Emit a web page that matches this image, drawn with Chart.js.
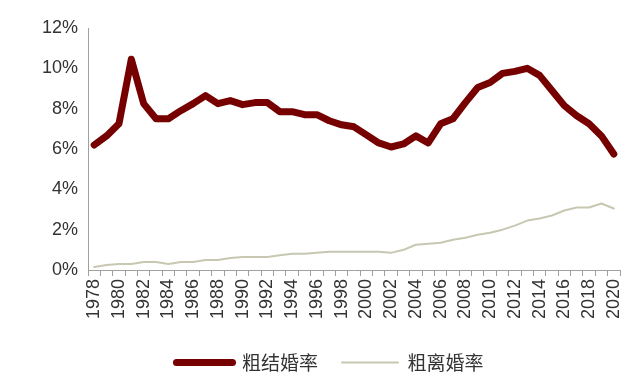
<!DOCTYPE html>
<html>
<head>
<meta charset="utf-8">
<script src="https://cdn.jsdelivr.net/npm/chart.js@4"></script>
<style>
  html, body { margin: 0; padding: 0; background: #fff; }
  #wrap { width: 640px; height: 378px; }
</style>
</head>
<body>
<div id="wrap"><canvas id="chart"></canvas></div>
<script>
const years = [];
for (let y = 1978; y <= 2020; y++) years.push(String(y));

const seriesNames = ["粗结婚率", "粗离婚率"];

const marriageRate = [
  6.2, 6.65, 7.25, 10.45, 8.25, 7.5, 7.5, 7.9, 8.25, 8.65,
  8.25, 8.4, 8.2, 8.3, 8.3, 7.85, 7.85, 7.7, 7.7, 7.4,
  7.2, 7.1, 6.7, 6.3, 6.1, 6.25, 6.65, 6.3, 7.25, 7.5,
  8.3, 9.05, 9.3, 9.75, 9.85, 10.0, 9.65, 8.9, 8.15, 7.65,
  7.25, 6.65, 5.75
];

const divorceRate = [
  0.15, 0.25, 0.3, 0.3, 0.4, 0.4, 0.3, 0.4, 0.4, 0.5,
  0.5, 0.6, 0.65, 0.65, 0.65, 0.73, 0.8, 0.8, 0.85, 0.9,
  0.9, 0.9, 0.9, 0.9, 0.85, 1.0, 1.25, 1.3, 1.35, 1.5,
  1.6, 1.75, 1.85, 2.0, 2.2, 2.45, 2.55, 2.7, 2.95, 3.1,
  3.1, 3.3, 3.05
];

const colors = ["#760000", "#c8c8b2"];
const widths = [7, 2];
const font = "'Liberation Sans', Arial, 'Noto Sans CJK SC', sans-serif";

const data = {
  labels: years,
  datasets: [
    {
      label: seriesNames[0],
      data: marriageRate,
      borderColor: colors[0],
      backgroundColor: colors[0],
      borderWidth: widths[0],
    },
    {
      label: seriesNames[1],
      data: divorceRate,
      borderColor: colors[1],
      backgroundColor: colors[1],
      borderWidth: widths[1],
    },
  ],
};

// nudge the legend right and down, as in the source picture
const legendShift = {
  id: "legendShift",
  afterLayout(chart) {
    const lg = chart.legend;
    lg.left += 20;
    lg.right += 20;
    lg.top += 7;
    lg.bottom += 7;
  },
};

const config = {
  type: "line",
  data: data,
  options: {
    responsive: true,
    maintainAspectRatio: false,
    animation: false,
    layout: {
      padding: { left: 0, right: 20, top: 28, bottom: 3 },
    },
    elements: {
      point: { radius: 0 },
      line: { tension: 0, borderCapStyle: "round", borderJoinStyle: "round" },
    },
    plugins: {
      tooltip: { enabled: false },
      legend: {
        position: "bottom",
        labels: {
          usePointStyle: true,
          pointStyleWidth: 56,
          color: "#333",
          padding: 24,
          font: { family: "'Noto Sans CJK SC', sans-serif", size: 19 },
          generateLabels: (chart) =>
            chart.data.datasets.map((ds, i) => ({
              text: ds.label,
              fillStyle: ds.borderColor,
              strokeStyle: ds.borderColor,
              lineWidth: ds.borderWidth,
              lineCap: "round",
              pointStyle: "line",
              fontColor: "#333",
              datasetIndex: i,
            })),
        },
      },
    },
    scales: {
      x: {
        offset: true,
        grid: {
          display: true,
          drawOnChartArea: false,
          drawTicks: true,
          tickLength: 6,
          offset: true,
          color: "#a0a0a0",
        },
        border: { display: true, color: "#a0a0a0", width: 1 },
        ticks: {
          autoSkip: false,
          maxRotation: 90,
          minRotation: 90,
          padding: 3,
          color: "#333",
          font: { family: font, size: 18 },
          callback: function (value, index) {
            return index % 2 === 0 ? this.getLabelForValue(value) : "";
          },
        },
        afterFit: (scale) => {
          scale.height = 52;
        },
      },
      y: {
        min: 0,
        max: 12,
        grid: {
          display: true,
          drawOnChartArea: false,
          drawTicks: false,
          color: "#a0a0a0",
        },
        border: { display: true, color: "#a0a0a0", width: 1 },
        ticks: {
          stepSize: 2,
          padding: 10,
          color: "#333",
          font: { family: font, size: 18 },
          callback: (v) => v + "%",
        },
        afterFit: (scale) => {
          scale.width = 88;
        },
      },
    },
  },
  plugins: [legendShift],
};

const chart = new Chart(document.getElementById("chart"), config);
</script>
</body>
</html>
